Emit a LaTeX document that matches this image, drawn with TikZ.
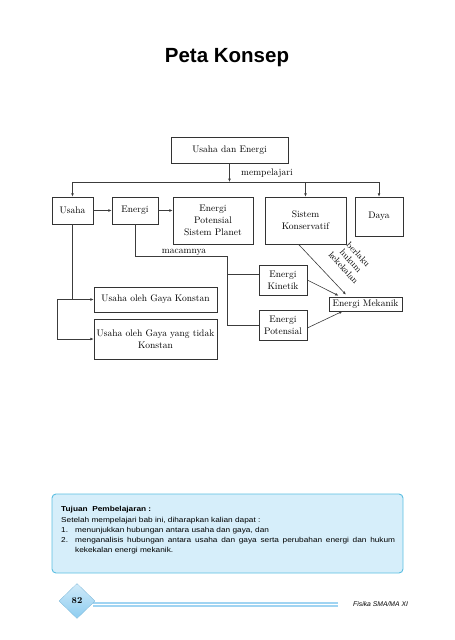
\documentclass[tikz,border=0pt]{standalone}
\usepackage{fontspec}
\newfontfamily\hsans{Liberation Sans}
\newfontfamily\tjfont[FakeStretch=1.15]{Liberation Sans}
\usetikzlibrary{arrows.meta,calc,shapes.geometric}
\definecolor{lineC}{RGB}{60,60,60}
\definecolor{tjfill}{RGB}{214,238,250}
\definecolor{tjdraw}{RGB}{90,190,225}
\definecolor{ftblue}{RGB}{140,204,240}
\definecolor{ftline}{RGB}{160,212,242}
\begin{document}
\begin{tikzpicture}[x=1pt,y=-1pt,
  box/.style={draw=black!80, line width=0.6pt, rectangle, align=center, inner sep=0pt,
    font=\fontsize{9.5}{11.8}\selectfont},
  conn/.style={draw=lineC, line width=0.6pt},
  arr/.style={conn, -{Latex[length=3.4pt,width=2.8pt]}},
  lbl/.style={font=\fontsize{9.5}{11}\selectfont, inner sep=0pt}]
\useasboundingbox (0,0) rectangle (455,640);
\node[font=\hsans\bfseries\fontsize{20.5}{24}\selectfont, anchor=base, inner sep=0pt] (title) at (227,62) {Peta Konsep};

% concept boxes
\node[box, minimum width=117pt, minimum height=26pt] (ue) at (229.5,150) {Usaha dan Energi};
\node[box, minimum width=41pt, minimum height=27pt] (usaha) at (72.5,210.5) {Usaha};
\node[box, minimum width=46pt, minimum height=27pt] (energi) at (135,210.5) {Energi};
\node[box, minimum width=80pt, minimum height=47pt] (epsp) at (213,220.5) {Energi\\Potensial\\Sistem Planet};
\node[box, minimum width=81pt, minimum height=47pt] (sk) at (305.5,220.5) {Sistem\\Konservatif};
\node[box, minimum width=48pt, minimum height=39pt] (daya) at (379,216.5) {Daya};
\node[box, minimum width=123pt, minimum height=25pt] (ugk) at (155.5,299.5) {Usaha oleh Gaya Konstan};
\node[box, minimum width=123pt, minimum height=40pt] (ugtk) at (155.5,339) {Usaha oleh Gaya yang tidak\\Konstan};
\node[box, minimum width=48pt, minimum height=30pt] (ek) at (283,280) {Energi\\Kinetik};
\node[box, minimum width=48pt, minimum height=30pt] (ep) at (283,325) {Energi\\Potensial};
\node[box, minimum width=73pt, minimum height=14pt] (em) at (365.5,304) {Energi Mekanik};

% labels
\node[lbl, anchor=base west] (mp) at (241,175) {mempelajari};
\node[lbl, anchor=base] (mac) at (184,253.5) {macamnya};
\node[lbl, rotate=-48, align=center, font=\fontsize{9}{10}\selectfont] (bhk) at (351,261) {berlaku\\hukum\\kekekalan};

% connectors
\coordinate (busL) at (72.5,182);
\coordinate (busR) at (379,182);
\draw[arr] (ue.south) -- (ue.south |- busL);
\draw[conn] (busL) -- (busR);
\draw[arr] (busL) -- (usaha.north);
\draw[arr] (sk.north |- busL) -- (sk.north);
\draw[arr] (busR) -- (daya.north);
\draw[arr] (usaha.east) -- (energi.west);
\draw[arr] (energi.east) -- (energi.east -| epsp.west);

\coordinate (m1) at (227,256);
\coordinate (mk) at (227,274);
\draw[conn] (energi.south) |- (m1) -- (m1 |- ep.west) -- (ep.west);
\draw[conn] (mk) -- (mk -| ek.west);

\coordinate (b1) at (57,299.5);
\coordinate (b2) at (57,339);
\draw[conn] (usaha.south) -- (usaha.south |- b1);
\draw[arr] (b1) -- (ugk.west);
\draw[conn] (b1) -- (b2);
\draw[arr] (b2) -- (ugtk.west);

\draw[arr] ([xshift=-7pt]sk.south) -- ([xshift=-19.5pt,yshift=2pt]em.north);
\draw[arr] (ek.east) -- ([xshift=-27pt,yshift=1pt]em.north);
\draw[arr] ([yshift=-3pt]ep.east) -- ([xshift=-23pt]em.south);

% Tujuan box
\node[draw=tjdraw, fill=tjfill, line width=0.9pt, rounded corners=4pt, minimum width=351pt, minimum height=79pt, inner sep=0pt] (tjbox) at (227.5,533.5) {};
\node[anchor=north west, inner sep=0pt, text width=334pt, align=justify,
  font=\tjfont\fontsize{7.2}{10.2}\selectfont] (tj) at (61,506.4) {%
\parindent=0pt
\textbf{Tujuan\ \ Pembelajaran :}\par
Setelah mempelajari bab ini, diharapkan kalian dapat :\par
\hangindent=14pt\hangafter=1\makebox[14pt][l]{1.}menunjukkan hubungan antara usaha dan gaya, dan\par
\hangindent=14pt\hangafter=1\makebox[14pt][l]{2.}menganalisis hubungan antara usaha dan gaya serta perubahan energi dan hukum\linebreak kekekalan energi mekanik.\par};

% footer
\coordinate (l1s) at (93,602.5);
\coordinate (l1e) at (338,602.5);
\coordinate (l2s) at (93,606);
\coordinate (l2e) at (338,606);
\draw[ftline, line width=2pt] (l1s) -- (l1e);
\draw[ftline, line width=2pt] (l2s) -- (l2e);
\node[diamond, minimum width=36pt, minimum height=35pt, inner sep=0pt, aspect=1,
  top color=ftblue!40!white, bottom color=ftblue, draw=ftblue!90!black, line width=0.3pt,
  font=\bfseries\fontsize{9}{9}\selectfont] (pg) at (77,601) {82};
\node[font=\hsans\itshape\fontsize{6.8}{8}\selectfont, anchor=base west, inner sep=0pt] (ft) at (353,606) {Fisika SMA/MA XI};
\end{tikzpicture}
\end{document}
